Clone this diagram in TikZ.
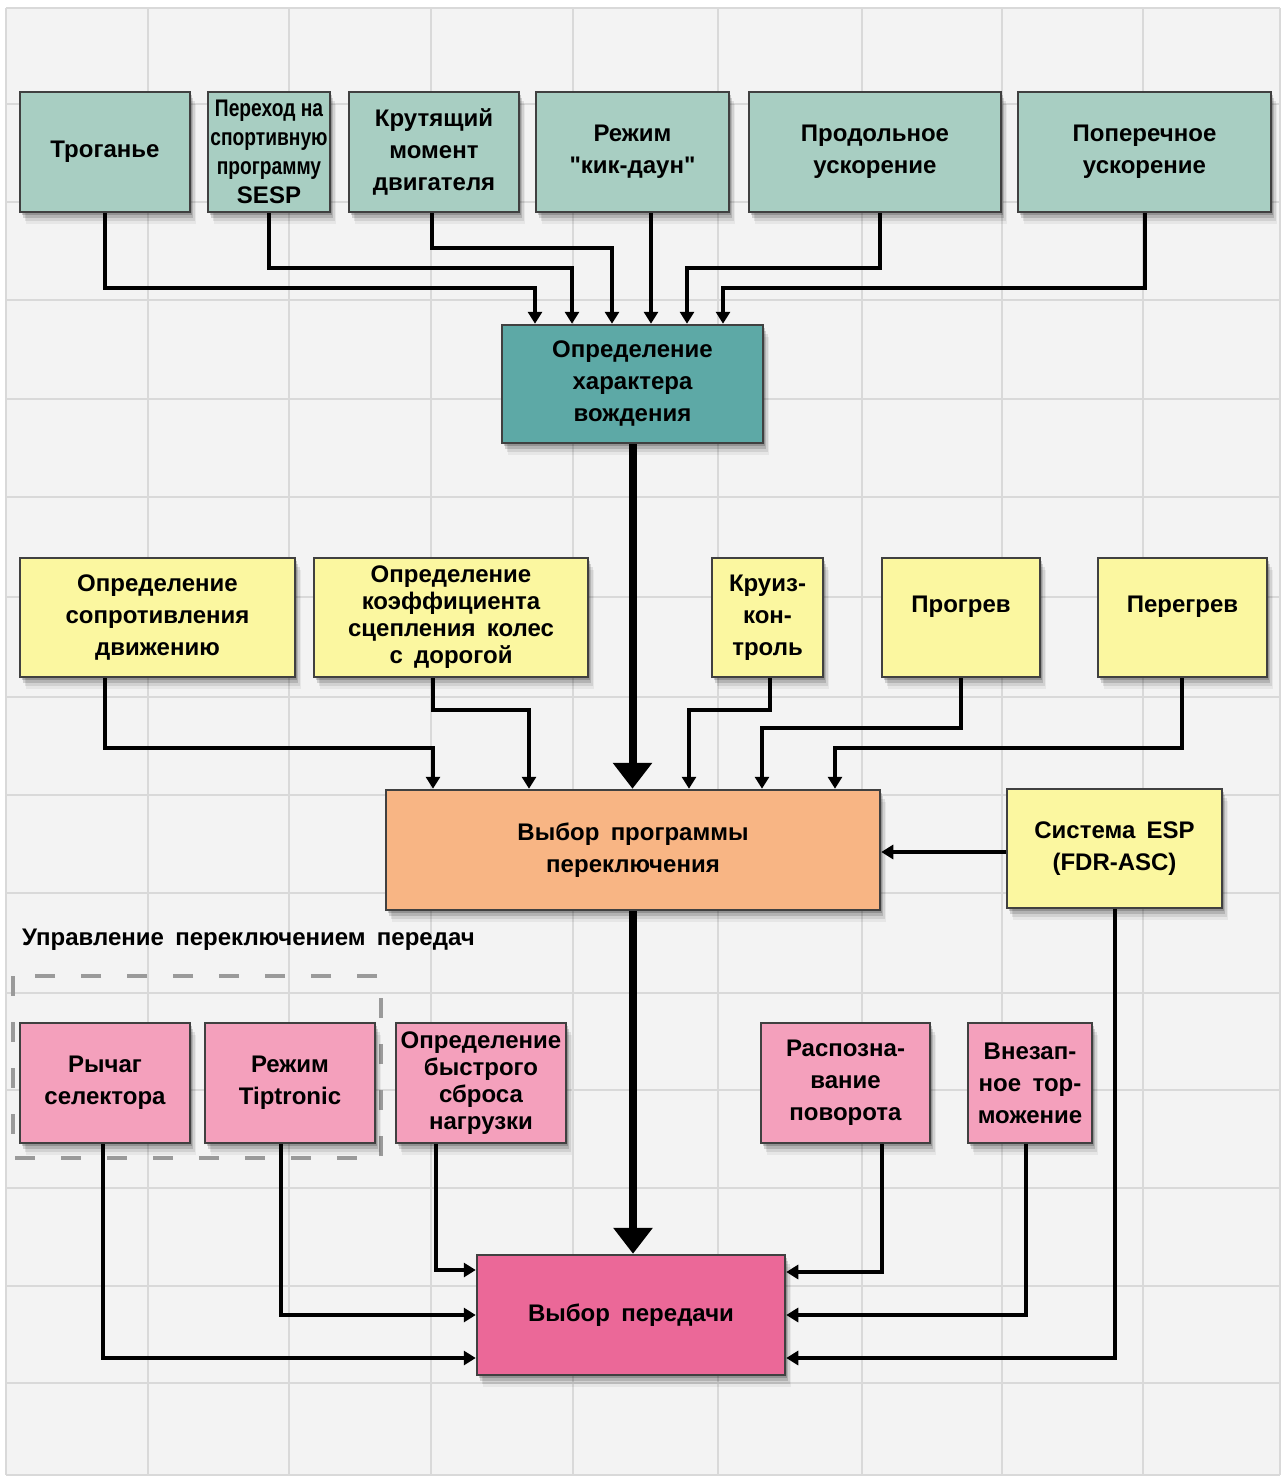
\documentclass[tikz,border=0pt]{standalone}
\usepackage{fontspec}
\setmainfont{Liberation Sans}[WordSpace=1.7, Ligatures=TeXOff]
\newfontfamily\condf{Liberation Sans}[FakeStretch=0.8, Ligatures=TeXOff]
\usetikzlibrary{arrows.meta,shadows}
\definecolor{bgc}{HTML}{F3F3F3}
\definecolor{gridc}{HTML}{D9D9D9}
\definecolor{topc}{HTML}{A8CEC2}
\definecolor{midc}{HTML}{5DA9A6}
\definecolor{yel}{HTML}{FBF7A0}
\definecolor{ora}{HTML}{F8B584}
\definecolor{pnk}{HTML}{F4A0BC}
\definecolor{hot}{HTML}{EB6898}
\definecolor{dashc}{HTML}{9A9A9A}
\tikzset{
  softshadow/.style={
    drop shadow={shadow xshift=2pt,shadow yshift=-3pt,opacity=0.18,fill=black},
    drop shadow={shadow xshift=3pt,shadow yshift=-6pt,opacity=0.14,fill=black},
    drop shadow={shadow xshift=5pt,shadow yshift=-9pt,opacity=0.09,fill=black},
    drop shadow={shadow xshift=6pt,shadow yshift=-12pt,opacity=0.05,fill=black}},
  box/.style={draw=black!75, line width=2.5pt, align=center, inner sep=0pt,
    font=\bfseries\fontsize{24}{32}\selectfont, softshadow},
  tight/.style={font=\bfseries\fontsize{24}{27}\selectfont},
  arr/.style={line width=4pt, line join=miter, -{Triangle[width=14pt,length=12pt]}},
  bigarr/.style={line width=8pt, -{Triangle[width=38pt,length=26pt]}},
  lbl/.style={font=\bfseries\fontsize{24}{32}\selectfont, inner sep=0pt}
}
\begin{document}
\begin{tikzpicture}[x=1pt,y=-1pt]
\useasboundingbox (0,0) rectangle (1284,1477);
\fill[white] (0,0) rectangle (1284,1477);
\fill[bgc] (6,8) rectangle (1280,1475);
\foreach \gx in {6,148,289,431,573,718,862,1002,1143,1280}
  \draw[gridc, line width=2pt] (\gx,8) -- (\gx,1475);
\foreach \gy in {8,104,202,300,399,497,597,697,795,893,993,1090,1188,1286,1383,1475}
  \draw[gridc, line width=2pt] (6,\gy) -- (1280,\gy);

% dashed group frame
\draw[dashc, line width=4pt, dash pattern=on 20pt off 26pt] (13,976) rectangle (381,1158);

% top row
\node[box, fill=topc, minimum width=170pt, minimum height=120pt] (trog) at (105,152) {Троганье};
\node[box, fill=topc, minimum width=122pt, minimum height=120pt, font=\bfseries\fontsize{24}{29}\selectfont] (sesp) at (269,152) {{\condf Переход на}\\{\condf спортивную}\\{\condf программу}\\SESP};
\node[box, fill=topc, minimum width=170pt, minimum height=120pt] (krut) at (434,152) {Крутящий\\момент\\двигателя};
\node[box, fill=topc, minimum width=193pt, minimum height=120pt] (kick) at (632.5,152) {Режим\\"кик-даун"};
\node[box, fill=topc, minimum width=252pt, minimum height=120pt] (prod) at (875,152) {Продольное\\ускорение};
\node[box, fill=topc, minimum width=253pt, minimum height=120pt] (pop) at (1144.5,152) {Поперечное\\ускорение};

\node[box, fill=midc, minimum width=261pt, minimum height=118pt] (char) at (632.5,384) {Определение\\характера\\вождения};

% middle row
\node[box, fill=yel, minimum width=275pt, minimum height=119pt] (sopr) at (157.5,617.5) {Определение\\сопротивления\\движению};
\node[box, tight, fill=yel, minimum width=274pt, minimum height=119pt] (koef) at (451,617.5) {Определение\\коэффициента\\сцепления колес\\с дорогой};
\node[box, fill=yel, minimum width=111pt, minimum height=119pt] (cruise) at (767.5,617.5) {Круиз-\\кон-\\троль};
\node[box, fill=yel, minimum width=158pt, minimum height=119pt] (warm) at (961,617.5) {};
\node[lbl] (warmtext) at (961,607) {Прогрев};
\node[box, fill=yel, minimum width=169pt, minimum height=119pt] (over) at (1182.5,617.5) {};
\node[lbl] (overtext) at (1182.5,607) {Перегрев};

\node[box, fill=ora, minimum width=494pt, minimum height=120pt] (prog) at (633,850) {Выбор программы\\переключения};
\node[box, fill=yel, minimum width=215pt, minimum height=119pt] (esp) at (1114.5,848.5) {Система ESP\\(FDR-ASC)};

\node[lbl, anchor=west] (title) at (22,940) {Управление переключением передач};

% bottom row
\node[box, fill=pnk, minimum width=170pt, minimum height=120pt] (lever) at (105,1083) {Рычаг\\селектора};
\node[box, fill=pnk, minimum width=170pt, minimum height=120pt] (tip) at (290,1083) {Режим\\Tiptronic};
\node[box, tight, fill=pnk, minimum width=170pt, minimum height=120pt] (load) at (481,1083) {Определение\\быстрого\\сброса\\нагрузки};
\node[box, fill=pnk, minimum width=169pt, minimum height=120pt] (turn) at (845.5,1083) {Распозна-\\вание\\поворота};
\node[box, fill=pnk, minimum width=124pt, minimum height=120pt] (brake) at (1030,1083) {Внезап-\\ное тор-\\можение};

\node[box, fill=hot, minimum width=308pt, minimum height=120pt] (gear) at (631,1315) {Выбор передачи};

% connectors: top row -> char
\draw[arr] (trog.south) |- (535,288) -- (535,0 |- char.north);
\draw[arr] (sesp.south) |- (572,268) -- (572,0 |- char.north);
\draw[arr] (432,0 |- krut.south) |- (612,248) -- (612,0 |- char.north);
\draw[arr] (651,0 |- kick.south) -- (651,0 |- char.north);
\draw[arr] (880,0 |- prod.south) |- (687,268) -- (687,0 |- char.north);
\draw[arr] (1145,0 |- pop.south) |- (723,288) -- (723,0 |- char.north);

\draw[bigarr] (char.south) -- (char.south |- prog.north);

% middle row -> prog
\draw[arr] (105,0 |- sopr.south) |- (433,748) -- (433,0 |- prog.north);
\draw[arr] (433,0 |- koef.south) |- (529,710) -- (529,0 |- prog.north);
\draw[arr] (770,0 |- cruise.south) |- (689,710) -- (689,0 |- prog.north);
\draw[arr] (961,0 |- warm.south) |- (762,728) -- (762,0 |- prog.north);
\draw[arr] (1182,0 |- over.south) |- (835,748) -- (835,0 |- prog.north);
\draw[arr] (esp.west |- 0,852) -- (prog.east |- 0,852);

\draw[bigarr] (prog.south) -- (prog.south |- gear.north);

% bottom row -> gear
\draw[arr] (436,0 |- load.south) |- (gear.west |- 0,1270);
\draw[arr] (281,0 |- tip.south) |- (gear.west |- 0,1315);
\draw[arr] (103,0 |- lever.south) |- (gear.west |- 0,1358);
\draw[arr] (882,0 |- turn.south) |- (gear.east |- 0,1272);
\draw[arr] (1026,0 |- brake.south) |- (gear.east |- 0,1315);
\draw[arr] (1115,0 |- esp.south) |- (gear.east |- 0,1358);
\end{tikzpicture}
\end{document}
